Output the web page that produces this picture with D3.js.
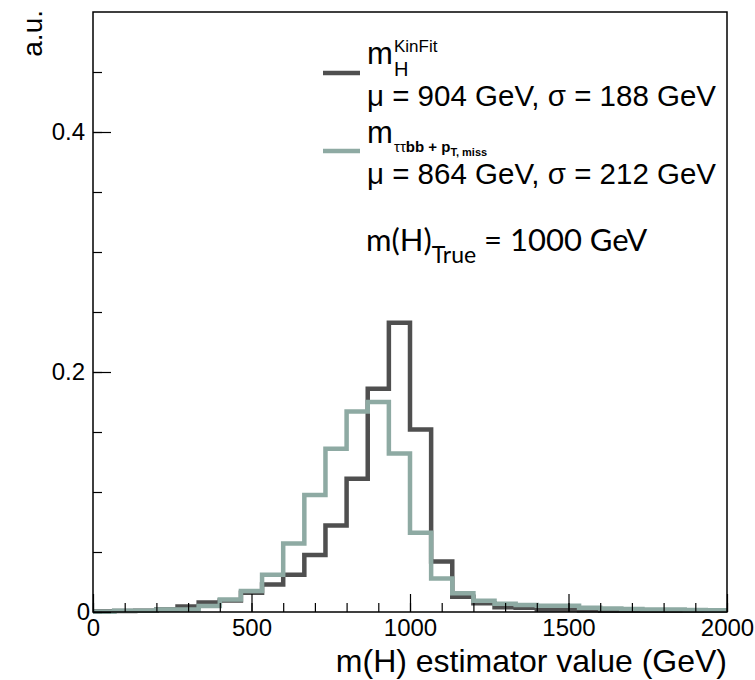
<!DOCTYPE html>
<html>
<head>
<meta charset="utf-8">
<script src="https://cdn.jsdelivr.net/npm/d3@7"></script>
<style>
  body { margin: 0; background: #fff; }
  svg { display: block; font-family: "Liberation Sans", Arial, sans-serif; }
</style>
</head>
<body>
<div id="chart"></div>
<script>
// histogram: 30 bins from 0 to 2000 GeV
const binLow = 0, binHigh = 2000, nBins = 30;
const kinFit = [0.0005, 0.0008, 0.001, 0.002, 0.0045, 0.008, 0.0095, 0.016, 0.023, 0.031,
                0.0475, 0.072, 0.111, 0.186, 0.241, 0.152, 0.042, 0.0128, 0.0072, 0.004,
                0.0035, 0.002, 0.002, 0.0015, 0.001, 0.001, 0.001, 0.001, 0.001, 0.001];
const visMiss = [0.0003, 0.001, 0.001, 0.002, 0.002, 0.005, 0.0105, 0.0175, 0.031, 0.057,
                 0.0975, 0.136, 0.167, 0.175, 0.132, 0.066, 0.028, 0.0156, 0.0094, 0.0068,
                 0.0058, 0.0053, 0.0053, 0.0035, 0.003, 0.0025, 0.002, 0.002, 0.0017, 0.0015];
const xMajor = [0, 500, 1000, 1500, 2000];
const yMajor = [0, 0.2, 0.4];

const width = 755, height = 680;
const margin = {top: 12, right: 28, bottom: 68, left: 93};

const svg = d3.select("#chart").append("svg")
    .attr("width", width)
    .attr("height", height);

const x = d3.scaleLinear().domain([0, 2000]).range([margin.left, width - margin.right]);
const y = d3.scaleLinear().domain([0, 0.5]).range([height - margin.bottom, margin.top]);

const binWidth = (binHigh - binLow) / nBins;

function stepPoints(vals) {
    const pts = vals.map((v, i) => [binLow + i * binWidth, v]);
    pts.push([binHigh, vals[vals.length - 1]]);
    return pts;
}

const line = d3.line()
    .x(d => x(d[0]))
    .y(d => y(d[1]))
    .curve(d3.curveStepAfter);

const dark = "#4f4f4f", green = "#8eaaa3";

svg.append("path")
    .datum(stepPoints(kinFit))
    .attr("fill", "none")
    .attr("stroke", dark)
    .attr("stroke-width", 4.5)
    .attr("d", line);

svg.append("path")
    .datum(stepPoints(visMiss))
    .attr("fill", "none")
    .attr("stroke", green)
    .attr("stroke-width", 4.5)
    .attr("d", line);

// axes, ticks pointing inward
const xMinorAxis = d3.axisBottom(x).tickValues(d3.range(0, 2001, 100)).tickSize(-9).tickFormat("");
const xMajorAxis = d3.axisBottom(x).tickValues(xMajor).tickSize(-18).tickPadding(7).tickFormat(d3.format("d"));
const yMinorAxis = d3.axisLeft(y).tickValues(d3.range(0, 0.5, 0.05)).tickSize(-9).tickFormat("");
const yMajorAxis = d3.axisLeft(y).tickValues(yMajor).tickSize(-18).tickPadding(8).tickFormat(d => d === 0 ? "0" : d3.format(".1f")(d));

const xg = svg.append("g").attr("transform", `translate(0,${y(0)})`);
xg.append("g").call(xMinorAxis);
xg.append("g").call(xMajorAxis);
const yg = svg.append("g").attr("transform", `translate(${x(0)},0)`);
yg.append("g").call(yMinorAxis);
yg.append("g").call(yMajorAxis);

svg.selectAll(".domain").remove();
svg.selectAll(".tick line").attr("stroke", "#000").attr("stroke-width", 1.2);
svg.selectAll(".tick text")
    .attr("font-family", "Liberation Sans, Arial, sans-serif")
    .attr("font-size", 24)
    .attr("fill", "#000");
yg.selectAll(".tick text").filter(d => d === 0).attr("x", -3);

// frame
svg.append("rect")
    .attr("x", x(0)).attr("y", y(0.5))
    .attr("width", x(2000) - x(0)).attr("height", y(0) - y(0.5))
    .attr("fill", "none").attr("stroke", "#000").attr("stroke-width", 1.5);

// axis titles
svg.append("text")
    .attr("x", x(2000)).attr("y", 672)
    .attr("text-anchor", "end")
    .attr("font-size", 32)
    .text("m(H) estimator value (GeV)");

svg.append("text")
    .attr("transform", "translate(42,10) rotate(-90)")
    .attr("text-anchor", "end")
    .attr("font-size", 28)
    .text("a.u.");

// legend
const leg = svg.append("g");
leg.append("line").attr("x1", 323).attr("x2", 360).attr("y1", 73).attr("y2", 73)
    .attr("stroke", dark).attr("stroke-width", 4.5);
leg.append("line").attr("x1", 323).attr("x2", 360).attr("y1", 151).attr("y2", 151)
    .attr("stroke", green).attr("stroke-width", 4.5);

leg.append("text").attr("x", 367).attr("y", 64).attr("font-size", 31).text("m");
leg.append("text").attr("x", 394).attr("y", 52).attr("font-size", 17).text("KinFit");
leg.append("text").attr("x", 394).attr("y", 76).attr("font-size", 20).text("H");
leg.append("text").attr("x", 367).attr("y", 106).attr("font-size", 29.5).text("\u03bc = 904 GeV, \u03c3 = 188 GeV");

leg.append("text").attr("x", 367).attr("y", 143).attr("font-size", 31).text("m");
const sub = leg.append("text").attr("x", 394).attr("y", 152).attr("font-size", 15).attr("font-weight", "bold");
sub.append("tspan").attr("font-weight", "normal").text("\u03c4\u03c4");
sub.append("tspan").text("bb + p");
sub.append("tspan").attr("font-size", 11).attr("dy", 4).text("T, miss");
leg.append("text").attr("x", 367).attr("y", 184).attr("font-size", 29.5).text("\u03bc = 864 GeV, \u03c3 = 212 GeV");

const truth = leg.append("text").attr("x", 366).attr("y", 251)
    .attr("font-family", "Lato, sans-serif").attr("font-size", 31);
truth.append("tspan").text("m(H)");
truth.append("tspan").attr("font-size", 23).attr("dy", 12).text("True");
truth.append("tspan").attr("dy", -12).text(" = 1000 GeV");
</script>
</body>
</html>
